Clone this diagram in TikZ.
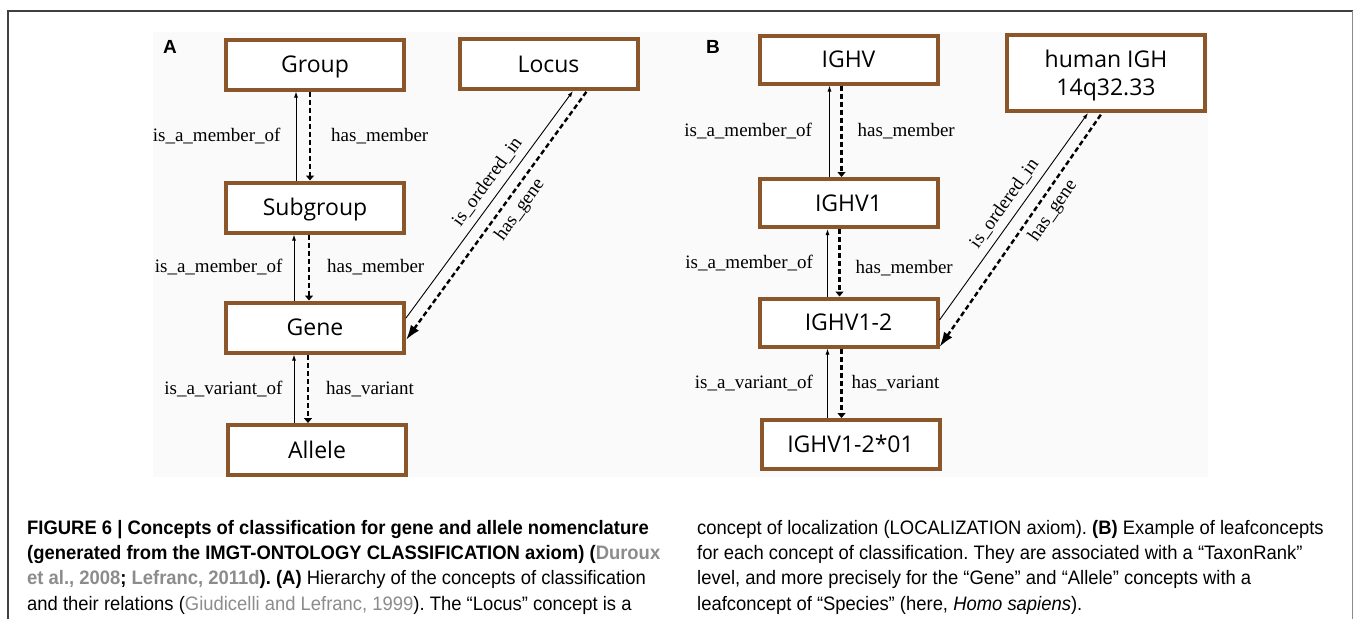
\documentclass[tikz,border=0pt]{standalone}
\usepackage{fontspec}
\setmainfont{Liberation Serif}
\newfontfamily\boxfont{Open Sans}
\newfontfamily\labelfont{Liberation Sans}
\newfontfamily\capfont[FakeStretch=0.945]{Liberation Sans}
\usetikzlibrary{arrows.meta,positioning,calc}
\definecolor{braun}{RGB}{139,87,42}
\definecolor{zitat}{RGB}{140,140,140}
\newcommand{\zit}[1]{\textcolor{zitat}{#1}}
\frenchspacing

\begin{document}
\begin{tikzpicture}[x=1pt,y=-1pt,
        konzept/.style={rectangle, draw=braun, line width=4pt, fill=white, minimum width=178pt, minimum height=50pt, inner sep=2pt, text height=16.5pt, text depth=0pt, font=\boxfont\fontsize{23}{28}\selectfont},
        isrel/.style={line width=0.9pt, -{Latex[length=6pt,width=4pt]}},
        hasrel/.style={line width=2.4pt, dash pattern=on 5pt off 3pt, -{Triangle[length=5pt,width=8pt]}},
        hasgene/.style={hasrel, {Latex[length=15pt,width=10pt]}-},
        rel/.style={font=\fontsize{19}{22}\selectfont, inner sep=0pt},
        teil/.style={font=\labelfont\bfseries\fontsize{19}{22}\selectfont, inner sep=0pt},
        caption/.style={anchor=north west, inner sep=0pt, align=left, font=\capfont\fontsize{19.5}{25.3}\selectfont}
    ]
        % Rahmen und Hintergrund
        \useasboundingbox (0,0) rectangle (1354,619);
        \fill[white] (0,0) rectangle (1354,619);
        \fill[black!2] (153,32) rectangle (1208,477);
        \draw[line width=1.2pt, black!75] (8,619) -- (8,11) -- (1353,11);
        \draw[line width=1pt, black!45] (1352.5,11) -- (1352.5,619);
        % Teil A - Konzepte
        \node at (170,47) [teil] (tA) {A};
        \node at (315,64.5) [konzept] (group) {Group};
        \node at (548.5,64) [konzept] (locus) {Locus};
        \node at (315,207.5) [konzept] (subgroup) {Subgroup};
        \node at (315,327.5) [konzept] (gene) {Gene};
        \node at (317,450) [konzept] (allele) {Allele};
        % Teil A - Relationen
        \draw[isrel] ([xshift=-19pt]subgroup.north) -- ([xshift=-19pt]group.south) node[midway, left=15pt, rel] {is\_a\_member\_of};
        \draw[hasrel] ([xshift=-5pt]group.south) -- ([xshift=-5pt]subgroup.north) node[midway, right=20pt, rel] {has\_member};
        \draw[isrel] ([xshift=-21pt]gene.north) -- ([xshift=-21pt]subgroup.south) node[midway, left=11pt, rel] {is\_a\_member\_of};
        \draw[hasrel] ([xshift=-6pt]subgroup.south) -- ([xshift=-6pt]gene.north) node[midway, right=17pt, rel] {has\_member};
        \draw[isrel] ([xshift=-23pt]allele.north) -- ([xshift=-21pt]gene.south) node[midway, left=11pt, rel] {is\_a\_variant\_of};
        \draw[hasrel] ([xshift=-7pt]gene.south) -- ([xshift=-9pt]allele.north) node[midway, right=17pt, rel] {has\_variant};
        % Teil A - Locus
        \draw[isrel] ([yshift=9.5pt]gene.east) -- ([xshift=24.5pt]locus.south) node[pos=0.56, sloped, above=7pt, rel] {is\_ordered\_in};
        \draw[hasgene] ([yshift=-12.5pt]gene.east) -- ([xshift=38.5pt]locus.south) node[pos=0.56, sloped, below=6pt, rel] {has\_gene};
        % Teil B - Konzepte
        \node at (713,47) [teil] (tB) {B};
        \node at (848.5,59.5) [konzept, minimum height=48pt] (ighv) {IGHV};
        \node at (1106,73) [konzept, minimum width=198pt, minimum height=76pt, text height=, align=center] (igh) {human IGH\\14q32.33};
        \node at (848.5,203) [konzept, minimum height=48pt] (ighv1) {IGHV1};
        \node at (848.5,322.5) [konzept, minimum height=48pt] (ighv12) {IGHV1-2};
        \node at (850.5,444.5) [konzept, minimum height=49pt] (allel) {IGHV1-2*01};
        % Teil B - Relationen
        \draw[isrel] ([xshift=-19pt]ighv1.north) -- ([xshift=-19pt]ighv.south) node[midway, left=17pt, rel] {is\_a\_member\_of};
        \draw[hasrel] ([xshift=-7pt]ighv.south) -- ([xshift=-7pt]ighv1.north) node[midway, right=15pt, rel] {has\_member};
        \draw[isrel] ([xshift=-21pt]ighv12.north) -- ([xshift=-21pt]ighv1.south) node[midway, left=14pt, rel] {is\_a\_member\_of};
        \draw[hasrel] ([xshift=-9pt]ighv1.south) -- ([xshift=-9pt]ighv12.north) node[pos=0.58, right=15pt, rel] {has\_member};
        \draw[isrel] ([xshift=-23pt]allel.north) -- ([xshift=-21pt]ighv12.south) node[midway, left=14pt, rel] {is\_a\_variant\_of};
        \draw[hasrel] ([xshift=-7pt]ighv12.south) -- ([xshift=-9pt]allel.north) node[midway, right=9pt, rel] {has\_variant};
        % Teil B - Locus
        \draw[isrel] ([yshift=2.5pt]ighv12.east) -- ([xshift=-18pt]igh.south) node[pos=0.52, sloped, above=7pt, rel] {is\_ordered\_in};
        \draw[hasgene] ([yshift=-24.5pt]ighv12.east) -- ([xshift=-4pt]igh.south) node[pos=0.62, sloped, below=6pt, rel] {has\_gene};
        % Bildunterschrift
        \node at (27,520) [caption] (capl) {%
            \textbf{FIGURE 6 | Concepts of classification for gene and allele nomenclature}\\
            \textbf{(generated from the IMGT-ONTOLOGY CLASSIFICATION axiom) (\zit{Duroux}}\\
            \textbf{\zit{et al., 2008}; \zit{Lefranc, 2011d}). (A)} Hierarchy of the concepts of classification\\
            and their relations (\zit{Giudicelli and Lefranc, 1999}). The “Locus” concept is a};
        \node at (697,520) [caption] (capr) {%
            concept of localization (LOCALIZATION axiom). \textbf{(B)} Example of leafconcepts\\
            for each concept of classification. They are associated with a “TaxonRank”\\
            level, and more precisely for the “Gene” and “Allele” concepts with a\\
            leafconcept of “Species” (here, \textit{Homo sapiens}).};
    \end{tikzpicture}
\end{document}
